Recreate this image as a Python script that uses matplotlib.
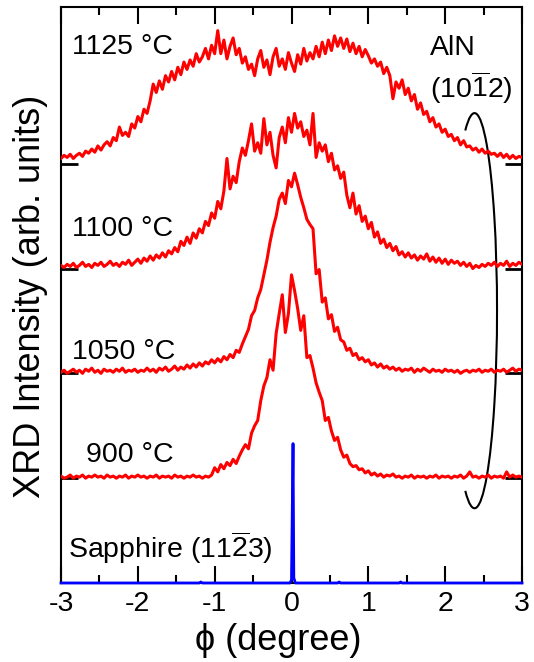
import numpy as np
import matplotlib
matplotlib.use("Agg")
import matplotlib.pyplot as plt
from matplotlib.patches import Arc
from matplotlib.ticker import MultipleLocator

plt.rcParams['font.family'] = ['Liberation Sans', 'DejaVu Sans']
plt.rcParams['mathtext.fontset'] = 'custom'
plt.rcParams['mathtext.rm'] = 'Liberation Sans'
plt.rcParams['mathtext.default'] = 'regular'
plt.rcParams['axes.unicode_minus'] = False

# phi grid of the AlN scans (degree), step 0.04
phi = np.linspace(-3, 3, 151)

# normalised intensities, one list per growth temperature
i_1125 = [0.05, 0.08, 0.06, 0.09, 0.05, 0.08, 0.10, 0.07, 0.12, 0.10,
          0.14, 0.11, 0.17, 0.13, 0.18, 0.21, 0.17, 0.25, 0.22, 0.35,
          0.27, 0.30, 0.26, 0.38, 0.34, 0.45, 0.40, 0.52, 0.48, 0.60,
          0.76, 0.68, 0.79, 0.71, 0.84, 0.78, 0.88, 0.80, 0.92, 0.85,
          0.97, 0.90, 0.99, 0.93, 1.05, 0.97, 1.02, 1.10, 1.00, 1.13,
          1.05, 1.27, 1.05, 1.18, 1.00, 1.12, 1.20, 1.04, 1.10, 0.96,
          1.02, 0.90, 0.95, 0.84, 1.00, 1.08, 0.92, 0.99, 0.85, 1.02,
          1.10, 0.93, 1.00, 0.90, 1.06, 0.96, 0.88, 1.04, 0.95, 1.10,
          0.98, 1.06, 1.00, 1.12, 1.02, 1.16, 1.05, 1.18, 1.08, 1.22,
          1.12, 1.20, 1.10, 1.19, 1.07, 1.15, 1.05, 1.12, 1.02, 1.09,
          1.03, 0.96, 1.00, 0.93, 0.97, 0.86, 0.92, 0.84, 0.62, 0.78,
          0.72, 0.80, 0.66, 0.72, 0.60, 0.66, 0.52, 0.58, 0.47, 0.50,
          0.40, 0.44, 0.35, 0.38, 0.30, 0.33, 0.26, 0.28, 0.22, 0.25,
          0.18, 0.22, 0.16, 0.17, 0.13, 0.15, 0.11, 0.14, 0.10, 0.12,
          0.09, 0.10, 0.07, 0.10, 0.06, 0.09, 0.05, 0.08, 0.05, 0.07,
          0.06]

i_1100 = [0.03, 0.01, 0.04, 0.02, 0.05, 0.01, 0.03, 0.06, 0.02, 0.04,
          0.01, 0.05, 0.03, 0.06, 0.02, 0.04, 0.07, 0.03, 0.05, 0.02,
          0.06, 0.04, 0.08, 0.03, 0.06, 0.09, 0.05, 0.10, 0.07, 0.12,
          0.08, 0.13, 0.10, 0.15, 0.11, 0.17, 0.14, 0.20, 0.16, 0.26,
          0.22, 0.30, 0.24, 0.34, 0.29, 0.38, 0.34, 0.45, 0.41, 0.53,
          0.48, 0.64, 0.57, 0.74, 1.05, 0.76, 0.88, 0.82, 1.02, 1.15,
          1.08, 1.22, 1.38, 1.12, 1.20, 1.10, 1.43, 1.18, 1.30, 1.08,
          0.96, 1.25, 1.35, 1.20, 1.44, 1.30, 1.48, 1.34, 1.40, 1.26,
          1.32, 1.18, 1.48, 1.06, 1.20, 1.12, 1.18, 1.02, 1.10, 0.94,
          0.98, 0.86, 0.92, 0.70, 0.58, 0.72, 0.52, 0.60, 0.45, 0.50,
          0.38, 0.44, 0.30, 0.35, 0.24, 0.28, 0.20, 0.24, 0.17, 0.21,
          0.13, 0.16, 0.11, 0.15, 0.10, 0.13, 0.08, 0.12, 0.09, 0.14,
          0.07, 0.11, 0.06, 0.10, 0.05, 0.09, 0.04, 0.08, 0.05, 0.07,
          0.03, 0.06, 0.02, 0.05, 0.00, 0.03, 0.01, 0.04, 0.02, 0.05,
          0.03, 0.06, 0.02, 0.05, 0.03, 0.07, 0.02, 0.05, 0.03, 0.06,
          0.04]

i_1050 = [0.01, 0.03, 0.00, 0.02, 0.04, 0.01, 0.03, 0.00, 0.04, 0.02,
          0.05, 0.01, 0.03, 0.00, 0.04, 0.02, 0.03, 0.01, 0.04, 0.02,
          0.05, 0.01, 0.03, 0.02, 0.04, 0.01, 0.03, 0.02, 0.05, 0.02,
          0.04, 0.01, 0.05, 0.03, 0.06, 0.02, 0.04, 0.07, 0.03, 0.06,
          0.04, 0.08, 0.05, 0.09, 0.06, 0.10, 0.07, 0.11, 0.09, 0.13,
          0.10, 0.14, 0.11, 0.16, 0.13, 0.18, 0.15, 0.22, 0.20, 0.28,
          0.35, 0.42, 0.55, 0.60, 0.72, 0.80, 0.94, 1.08, 1.25, 1.39,
          1.50, 1.66, 1.72, 1.62, 1.84, 1.78, 1.91, 1.80, 1.68, 1.58,
          1.47, 1.42, 1.38, 0.95, 0.99, 0.68, 0.72, 0.52, 0.56, 0.40,
          0.44, 0.32, 0.30, 0.22, 0.24, 0.17, 0.19, 0.13, 0.15, 0.11,
          0.13, 0.08, 0.10, 0.06, 0.09, 0.05, 0.07, 0.04, 0.06, 0.03,
          0.05, 0.02, 0.04, 0.03, 0.05, 0.01, 0.04, 0.02, 0.05, 0.03,
          0.01, 0.04, 0.02, 0.03, 0.01, 0.04, 0.02, 0.03, 0.01, 0.03,
          0.00, 0.02, 0.03, 0.01, 0.03, 0.02, 0.04, 0.01, 0.03, 0.02,
          0.04, 0.01, 0.03, 0.02, 0.04, 0.01, 0.03, 0.05, 0.02, 0.04,
          0.03]

i_900 = [0.02, 0.00, 0.01, 0.03, 0.00, 0.02, 0.01, 0.03, 0.00, 0.02,
         0.01, 0.03, 0.01, 0.02, 0.00, 0.03, 0.01, 0.02, 0.00, 0.02,
         0.01, 0.03, 0.00, 0.02, 0.01, 0.03, 0.01, 0.02, 0.00, 0.02,
         0.01, 0.03, 0.00, 0.02, 0.01, 0.02, 0.00, 0.03, 0.01, 0.02,
         0.00, 0.02, 0.01, 0.03, 0.01, 0.02, 0.00, 0.02, 0.01, 0.03,
         0.10, 0.06, 0.13, 0.09, 0.15, 0.12, 0.18, 0.14, 0.21, 0.27,
         0.32, 0.28, 0.43, 0.50, 0.55, 0.74, 0.88, 0.96, 1.13, 1.03,
         1.38, 1.57, 1.75, 1.39, 1.57, 1.94, 1.79, 1.62, 1.41, 1.55,
         1.15, 1.17, 1.05, 0.91, 0.82, 0.74, 0.55, 0.58, 0.45, 0.36,
         0.39, 0.27, 0.20, 0.22, 0.14, 0.11, 0.12, 0.08, 0.09, 0.05,
         0.07, 0.03, 0.05, 0.02, 0.04, 0.01, 0.03, 0.02, 0.04, 0.01,
         0.02, 0.00, 0.02, 0.01, 0.03, 0.00, 0.02, 0.01, 0.02, 0.00,
         0.02, 0.01, 0.03, 0.00, 0.02, 0.01, 0.02, 0.00, 0.02, 0.01,
         0.03, 0.00, 0.02, 0.06, 0.01, 0.02, 0.00, 0.02, 0.01, 0.03,
         0.00, 0.02, 0.01, 0.02, 0.00, 0.06, 0.01, 0.03, 0.01, 0.02,
         0.01]

# sapphire reference scan
sap_phi = [-3.0, -1.2, -1.18, -1.16, -0.5, -0.02, 0.0, 0.02, 0.03, 0.05,
           0.6, 0.62, 0.64, 1.4, 1.42, 1.44, 3.0]
sap_int = [0.0, 0.0, 0.01, 0.0, 0.0, 0.0, 0.03, 1.33, 0.05, 0.0,
           0.0, 0.01, 0.0, 0.0, 0.01, 0.0, 0.0]

aln_curves = [i_900, i_1050, i_1100, i_1125]
offsets = [1, 2, 3, 4]

fig = plt.figure(figsize=(5.34, 6.62), dpi=100)
ax = fig.add_axes([61 / 534, 79 / 662, 461 / 534, 576.5 / 662])

ax.plot(sap_phi, sap_int, color='#0000ff', lw=2.0, zorder=4, clip_on=False)
for vals, off in zip(aln_curves, offsets):
    ax.plot(phi, np.array(vals) + off, color='#ff0000', lw=2.2, zorder=3)

ax.set_xlim(-3, 3)
ax.set_ylim(0, 5.5)

ax.xaxis.set_major_locator(MultipleLocator(1))
ax.xaxis.set_minor_locator(MultipleLocator(0.5))
ax.tick_params(axis='x', which='both', direction='in', top=True, bottom=True,
               width=1.5, labelsize=20.5, pad=6)
ax.tick_params(axis='x', which='major', length=12)
ax.tick_params(axis='x', which='minor', length=6)
# zero-level markers of each shifted scan
ax.set_yticks(offsets)
ax.tick_params(axis='y', direction='in', left=True, right=True, length=12,
               width=2, labelleft=False)
for s in ax.spines.values():
    s.set_linewidth(1.5)

fs = 20.5
ax.text(-2.857, 5.11, '1125 °C', fontsize=fs, va='center')
ax.text(-2.857, 3.38, '1100 °C', fontsize=fs, va='center')
ax.text(-2.857, 2.20, '1050 °C', fontsize=fs, va='center')
ax.text(-2.675, 1.22, '900 °C', fontsize=fs, va='center')
ax.text(-2.91, 0.33, r'Sapphire (11$\overline{2}$3)', fontsize=fs, va='center')
ax.text(1.80, 5.10, 'AlN', fontsize=fs, va='center')
ax.text(1.80, 4.72, r'(10$\overline{1}$2)', fontsize=fs, va='center')

ax.add_patch(Arc((2.382, 2.598), 0.586, 3.77, theta1=266, theta2=94,
                 color='black', lw=1.5, zorder=2))

fig.text(31 / 534, 0.552, 'XRD Intensity (arb. units)', fontsize=26,
         rotation=90, ha='center', va='center')
fig.text(278.5 / 534, 22 / 662, 'ϕ (degree)', fontsize=26,
         ha='center', va='center')

fig.savefig('out.png', dpi=100)
